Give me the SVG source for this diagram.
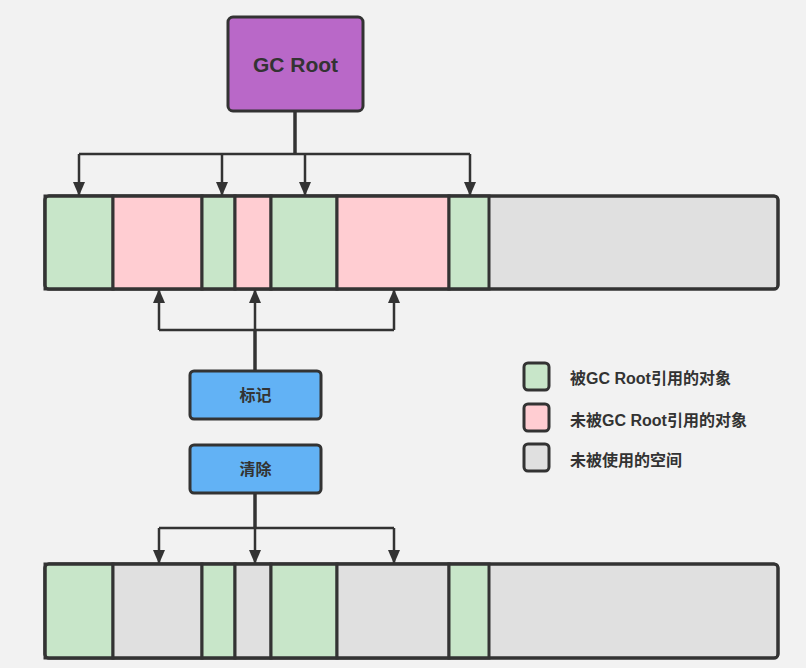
<svg xmlns="http://www.w3.org/2000/svg" width="806" height="668" viewBox="0 0 806 668">
<style>
.bg{fill:#f2f2f2}
.box{stroke:#333;stroke-width:3}
.seg{stroke:#333;stroke-width:3}
.g{fill:#c8e6c9}.p{fill:#ffcdd2}.e{fill:#e0e0e0}
.line{fill:none;stroke:#333;stroke-width:2.5}
.main{fill:none;stroke:#333;stroke-width:3.5}
.t{font-family:"Liberation Sans","Noto Sans CJK SC",sans-serif;fill:#333;font-weight:bold;text-anchor:middle;dominant-baseline:central}
.lg{font-family:"Liberation Sans","Noto Sans CJK SC",sans-serif;fill:#333;font-size:16px;font-weight:bold;dominant-baseline:central}
</style>
<defs>
<marker id="ah" markerWidth="14" markerHeight="12" refX="13" refY="6" orient="auto" markerUnits="userSpaceOnUse" viewBox="0 0 14 12">
<path d="M0,0 L14,6 L0,12 Z" fill="#333"/>
</marker>
</defs>
<rect class="bg" x="0" y="0" width="806" height="668"/>

<g id="connectors">
<path class="main" d="M295,111 V154"/>
<path class="line" d="M79,154 H470"/>
<path class="line" d="M79,154 V195" marker-end="url(#ah)"/>
<path class="line" d="M222,154 V195" marker-end="url(#ah)"/>
<path class="line" d="M305,154 V195" marker-end="url(#ah)"/>
<path class="line" d="M470,154 V195" marker-end="url(#ah)"/>
<path class="main" d="M255,371 V330"/>
<path class="line" d="M159,330 H394"/>
<path class="line" d="M159,330 V290" marker-end="url(#ah)"/>
<path class="line" d="M255,330 V290" marker-end="url(#ah)"/>
<path class="line" d="M394,330 V290" marker-end="url(#ah)"/>
<path class="main" d="M255,493 V528"/>
<path class="line" d="M159,528 H394"/>
<path class="line" d="M159,528 V563" marker-end="url(#ah)"/>
<path class="line" d="M255,528 V563" marker-end="url(#ah)"/>
<path class="line" d="M394,528 V563" marker-end="url(#ah)"/>
</g>

<g id="gcroot">
<rect class="box" x="228" y="17" width="135" height="94" rx="5" fill="#b968c8"/>
<text class="t" x="295.5" y="64" font-size="21">GC Root</text>
</g>

<g id="heap-before">
<rect class="seg e" x="45" y="196" width="733" height="93" rx="4"/>
<rect class="seg g" x="45" y="196" width="68" height="93"/>
<rect class="seg p" x="113" y="196" width="89" height="93"/>
<rect class="seg g" x="202" y="196" width="33" height="93"/>
<rect class="seg p" x="235" y="196" width="36" height="93"/>
<rect class="seg g" x="271" y="196" width="66" height="93"/>
<rect class="seg p" x="337" y="196" width="112" height="93"/>
<rect class="seg g" x="449" y="196" width="40" height="93"/>
<rect x="45" y="196" width="733" height="93" rx="4" fill="none" stroke="#333" stroke-width="3"/>
</g>

<g id="mark">
<rect class="box" x="190" y="371" width="131" height="48" rx="4" fill="#62b2f5"/>
<text class="t" x="255.5" y="395" font-size="16">标记</text>
</g>

<g id="sweep">
<rect class="box" x="190" y="445" width="131" height="48" rx="4" fill="#62b2f5"/>
<text class="t" x="255.5" y="469" font-size="16">清除</text>
</g>

<g id="heap-after">
<rect class="seg e" x="45" y="564" width="733" height="94" rx="4"/>
<rect class="seg g" x="45" y="564" width="68" height="94"/>
<rect class="seg e" x="113" y="564" width="89" height="94"/>
<rect class="seg g" x="202" y="564" width="33" height="94"/>
<rect class="seg e" x="235" y="564" width="36" height="94"/>
<rect class="seg g" x="271" y="564" width="66" height="94"/>
<rect class="seg e" x="337" y="564" width="112" height="94"/>
<rect class="seg g" x="449" y="564" width="40" height="94"/>
<rect x="45" y="564" width="733" height="94" rx="4" fill="none" stroke="#333" stroke-width="3"/>
</g>

<g id="legend">
<rect class="box g" x="524" y="363" width="25" height="27" rx="4"/>
<text class="lg" x="570" y="378">被GC Root引用的对象</text>
<rect class="box p" x="524" y="404" width="25" height="27" rx="4"/>
<text class="lg" x="570" y="420">未被GC Root引用的对象</text>
<rect class="box e" x="524" y="444" width="25" height="27" rx="4"/>
<text class="lg" x="570" y="460">未被使用的空间</text>
</g>
</svg>
